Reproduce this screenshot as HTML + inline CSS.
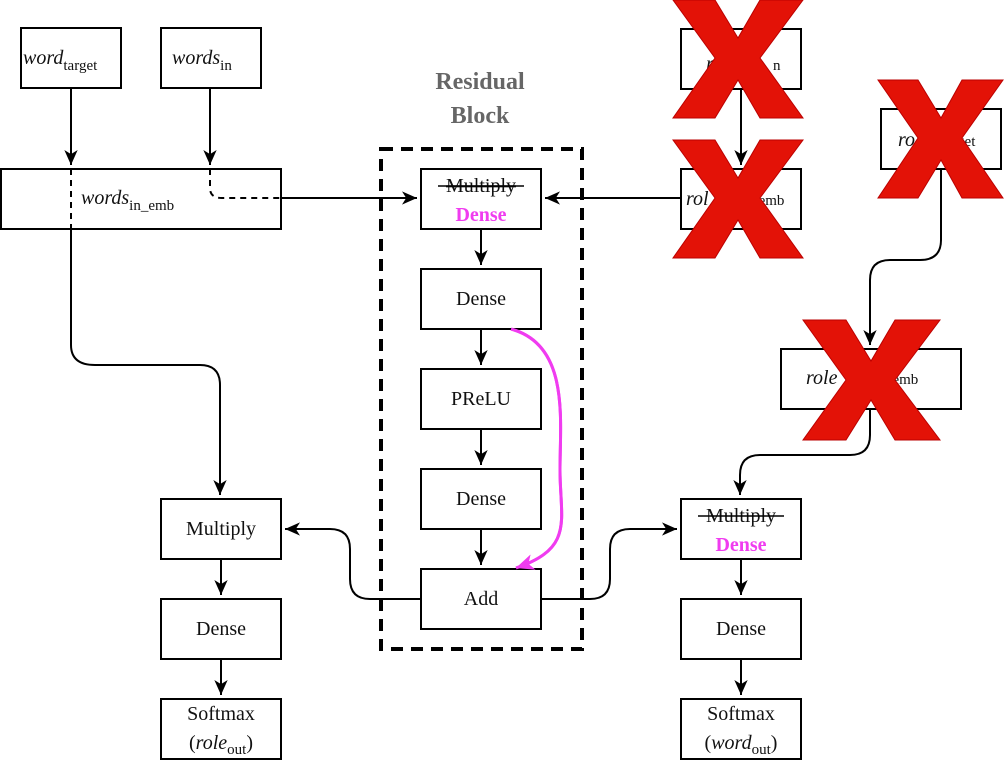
<!DOCTYPE html>
<html><head><meta charset="utf-8"><style>
html,body{margin:0;padding:0;background:#fff;}
svg{display:block;}
text{font-family:"Liberation Serif",serif;font-size:20px;fill:#111;}
.b{fill:#fff;stroke:#000;stroke-width:2;}
.l{fill:none;stroke:#000;stroke-width:2;}
</style></head><body>
<svg width="1004" height="762" viewBox="0 0 1004 762" xmlns="http://www.w3.org/2000/svg">
<defs>
<marker id="a" viewBox="0 0 10 10" refX="9" refY="5" markerWidth="8" markerHeight="8" orient="auto" markerUnits="userSpaceOnUse">
<path d="M0,0 L10,5 L0,10 L3,5 z" fill="#000" transform="scale(1.6) translate(-3.75,-1.9)"/>
</marker>
<marker id="m" viewBox="-2 -2 24 24" refX="18" refY="10" markerWidth="24" markerHeight="24" orient="auto" markerUnits="userSpaceOnUse">
<path d="M0,2 L18,10 L0,18 L5,10 z" fill="#f03cf0"/>
</marker>
<marker id="k" viewBox="-2 -2 24 24" refX="18" refY="10" markerWidth="20" markerHeight="20" orient="auto" markerUnits="userSpaceOnUse">
<path d="M0,2 L18,10 L0,18 L5,10 z" fill="#000"/>
</marker>
</defs>

<!-- residual label -->
<text x="480" y="89" text-anchor="middle" style="font-weight:bold;font-size:24px;fill:#666">Residual</text>
<text x="480" y="123" text-anchor="middle" style="font-weight:bold;font-size:24px;fill:#666">Block</text>
<rect x="381" y="149" width="201" height="500" fill="none" stroke="#000" stroke-width="4" stroke-dasharray="12,8"/>

<!-- connectors -->
<path class="l" d="M71,88 V165" marker-end="url(#k)"/>
<path class="l" d="M210,88 V165" marker-end="url(#k)"/>
<path d="M210,169 V188 Q210,198 222,198 H281" fill="none" stroke="#000" stroke-width="2" stroke-dasharray="6,5"/>
<path d="M71,169 V229" fill="none" stroke="#000" stroke-width="2" stroke-dasharray="6,5"/>
<path class="l" d="M281,198 H417" marker-end="url(#k)"/>
<path class="l" d="M681,198 H545" marker-end="url(#k)"/>
<path class="l" d="M71,229 V345 Q71,365 95,365 H200 Q220,365 220,385 V495" marker-end="url(#k)"/>
<path class="l" d="M741,88 V165" marker-end="url(#k)"/>
<path class="l" d="M941,169 V240 Q941,260 920,260 H890 Q870,260 870,280 V345" marker-end="url(#k)"/>
<path class="l" d="M870,409 V435 Q870,455 850,455 H760 Q740,455 740,475 V495" marker-end="url(#k)"/>
<path class="l" d="M481,229 V265" marker-end="url(#k)"/>
<path class="l" d="M481,329 V365" marker-end="url(#k)"/>
<path class="l" d="M481,429 V465" marker-end="url(#k)"/>
<path class="l" d="M481,529 V565" marker-end="url(#k)"/>
<path class="l" d="M421,599 H370 Q350,599 350,579 V549 Q350,529 330,529 H285" marker-end="url(#k)"/>
<path class="l" d="M541,599 H590 Q610,599 610,579 V549 Q610,529 630,529 H677" marker-end="url(#k)"/>
<path class="l" d="M221,559 V595" marker-end="url(#k)"/>
<path class="l" d="M221,659 V695" marker-end="url(#k)"/>
<path class="l" d="M741,559 V595" marker-end="url(#k)"/>
<path class="l" d="M741,659 V695" marker-end="url(#k)"/>
<path d="M511,329 C570,345 560,420 560,470 C560,520 575,548 516,568" fill="none" stroke="#f03cf0" stroke-width="3" marker-end="url(#m)"/>

<!-- boxes -->
<rect class="b" x="21" y="28" width="100" height="60"/>
<text x="23" y="64"><tspan font-style="italic">word</tspan><tspan font-size="15" dy="6">target</tspan></text>
<rect class="b" x="161" y="28" width="100" height="60"/>
<text x="172" y="64"><tspan font-style="italic">words</tspan><tspan font-size="15" dy="6">in</tspan></text>
<rect class="b" x="1" y="169" width="280" height="60"/>
<path d="M71,169 V229" fill="none" stroke="#000" stroke-width="2" stroke-dasharray="6,5"/>
<path d="M210,169 V188 Q210,198 222,198 H281" fill="none" stroke="#000" stroke-width="2" stroke-dasharray="6,5"/>
<text x="81" y="204"><tspan font-style="italic">words</tspan><tspan font-size="15" dy="6">in_emb</tspan></text>

<rect class="b" x="421" y="169" width="120" height="60"/>
<text x="481" y="192" text-anchor="middle" text-decoration="line-through">Multiply</text>
<line x1="438" y1="186" x2="524" y2="186" stroke="#000" stroke-width="1.5"/>
<text x="481" y="221" text-anchor="middle" style="fill:#f03cf0;font-weight:bold">Dense</text>
<rect class="b" x="421" y="269" width="120" height="60"/>
<text x="481" y="305" text-anchor="middle">Dense</text>
<rect class="b" x="421" y="369" width="120" height="60"/>
<text x="481" y="405" text-anchor="middle">PReLU</text>
<rect class="b" x="421" y="469" width="120" height="60"/>
<text x="481" y="505" text-anchor="middle">Dense</text>
<rect class="b" x="421" y="569" width="120" height="60"/>
<text x="481" y="605" text-anchor="middle">Add</text>
<path d="M511,329 C570,345 560,420 560,470 C560,520 575,548 516,568" fill="none" stroke="#f03cf0" stroke-width="3" marker-end="url(#m)"/>

<rect class="b" x="161" y="499" width="120" height="60"/>
<text x="221" y="535" text-anchor="middle">Multiply</text>
<rect class="b" x="161" y="599" width="120" height="60"/>
<text x="221" y="635" text-anchor="middle">Dense</text>
<rect class="b" x="161" y="699" width="120" height="60"/>
<text x="221" y="720" text-anchor="middle">Softmax</text>
<text x="221" y="749" text-anchor="middle">(<tspan font-style="italic">role</tspan><tspan font-size="15" dy="5">out</tspan><tspan dy="-5">)</tspan></text>

<rect class="b" x="681" y="499" width="120" height="60"/>
<text x="741" y="522" text-anchor="middle">Multiply</text>
<line x1="698" y1="516" x2="784" y2="516" stroke="#000" stroke-width="1.5"/>
<text x="741" y="551" text-anchor="middle" style="fill:#f03cf0;font-weight:bold">Dense</text>
<rect class="b" x="681" y="599" width="120" height="60"/>
<text x="741" y="635" text-anchor="middle">Dense</text>
<rect class="b" x="681" y="699" width="120" height="60"/>
<text x="741" y="720" text-anchor="middle">Softmax</text>
<text x="741" y="749" text-anchor="middle">(<tspan font-style="italic">word</tspan><tspan font-size="15" dy="5">out</tspan><tspan dy="-5">)</tspan></text>

<rect class="b" x="681" y="29" width="120" height="60"/>
<text x="706" y="70"><tspan font-style="italic">ro</tspan><tspan font-size="15" dx="50">n</tspan></text>
<rect class="b" x="681" y="169" width="120" height="60"/>
<text x="686" y="205"><tspan font-style="italic">rol</tspan><tspan font-size="15" dx="50">emb</tspan></text>
<rect class="b" x="881" y="109" width="120" height="60"/>
<text x="898" y="146"><tspan font-style="italic">ro</tspan><tspan font-size="15" dx="42">get</tspan></text>
<rect class="b" x="781" y="349" width="180" height="60"/>
<text x="806" y="384"><tspan font-style="italic">role</tspan><tspan font-size="15" dx="55">emb</tspan></text>

<!-- red X's -->
<g fill="#e31207" stroke="#b00" stroke-width="1">
<path d="M673,0 H715 L738,38 L760,0 H803 L760,58 L803,118 H760 L738,80 L715,118 H673 L715,58 Z"/>
<path d="M673,140 H715 L738,178 L760,140 H803 L760,198 L803,258 H760 L738,220 L715,258 H673 L715,198 Z"/>
<path d="M878,80 H918 L941,118 L962,80 H1003 L962,138 L1003,198 H962 L941,160 L918,198 H878 L918,138 Z"/>
<path d="M803,320 H846 L871,361 L895,320 H940 L895,380 L940,440 H895 L871,400 L846,440 H803 L846,380 Z"/>
</g>
</svg>
</body></html>
